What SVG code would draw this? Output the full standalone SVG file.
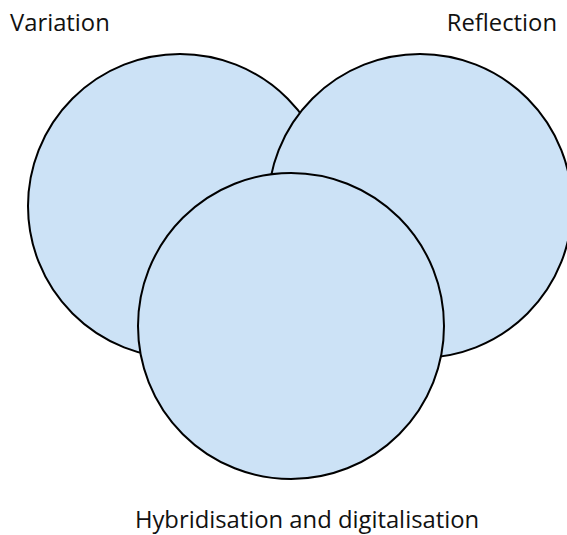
<svg xmlns="http://www.w3.org/2000/svg" width="567" height="535" viewBox="0 0 567 535">
  <style>
    .c { fill: #cce2f6; stroke: #000; stroke-width: 2; }
    .t { font-family: "Open Sans", "Noto Sans", sans-serif; font-size: 23.8px; fill: #111; }
  </style>
  <rect width="567" height="535" fill="#fff"/>
  <g id="variation">
    <circle class="c" cx="180" cy="206" r="152"/>
    <text class="t" x="10" y="31">Variation</text>
  </g>
  <g id="reflection">
    <circle class="c" cx="420" cy="206" r="152"/>
    <text class="t" x="557" y="31" text-anchor="end">Reflection</text>
  </g>
  <g id="hybridisation">
    <circle class="c" cx="291" cy="326" r="153"/>
    <text class="t" x="307" y="528" text-anchor="middle">Hybridisation and digitalisation</text>
  </g>
  <g id="connectors"/>
</svg>
